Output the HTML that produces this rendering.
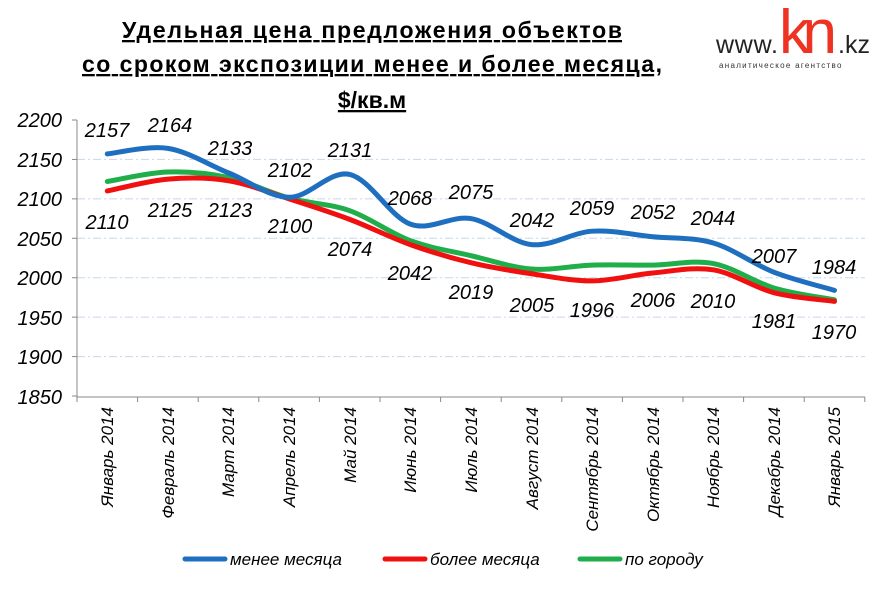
<!DOCTYPE html>
<html><head><meta charset="utf-8"><style>
body{margin:0;background:#fff;width:886px;height:591px;overflow:hidden;font-family:"Liberation Sans",sans-serif}
</style></head><body>
<svg id="s" width="886" height="591" xmlns="http://www.w3.org/2000/svg" font-family="Liberation Sans, sans-serif">
<g font-weight="bold" font-size="23" text-anchor="middle" text-decoration="underline" fill="#000">
<text x="372" y="38" textLength="500">Удельная цена предложения  объектов</text>
<text x="372" y="72" textLength="580">со сроком экспозиции менее и более месяца,</text>
<text x="372" y="108">$/кв.м</text>
</g>
<text x="716" y="53" font-size="25" fill="#222" textLength="62">www.</text>
<text x="779" y="53" font-size="62" fill="#e32" textLength="58">kn</text>
<text x="838" y="53" font-size="25" fill="#222">.kz</text>
<text x="719" y="68" font-size="8" fill="#333" letter-spacing="1.3">аналитическое агентство</text>
<g id="grid" stroke="#c8d8e8" stroke-dasharray="8,3,2,3" stroke-width="1"></g>
<line x1="77" y1="120" x2="77" y2="397" stroke="#888"/>
<line x1="77" y1="397" x2="865" y2="397" stroke="#888"/>
<g font-size="20" font-style="italic" text-anchor="end" fill="#000">
<text x="62" y="127">2200</text><text x="62" y="167">2150</text><text x="62" y="206">2100</text><text x="62" y="246">2050</text><text x="62" y="285">2000</text><text x="62" y="325">1950</text><text x="62" y="364">1900</text><text x="62" y="404">1850</text>
</g>
<g id="ticks" stroke="#888"></g>
<g id="lines" fill="none" stroke-width="5" stroke-linecap="round"></g>
<g font-size="20" font-style="italic" text-anchor="middle" fill="#000">
<text x="107" y="137">2157</text><text x="170" y="132">2164</text><text x="230" y="155">2133</text><text x="290" y="177">2102</text><text x="350" y="157">2131</text><text x="410" y="205">2068</text><text x="471" y="199">2075</text><text x="532" y="227">2042</text><text x="592" y="215">2059</text><text x="653" y="219">2052</text><text x="713" y="225">2044</text><text x="774" y="263">2007</text><text x="834" y="274">1984</text>
<text x="107" y="229">2110</text><text x="170" y="217">2125</text><text x="230" y="217">2123</text><text x="290" y="233">2100</text><text x="350" y="256">2074</text><text x="410" y="280">2042</text><text x="471" y="299">2019</text><text x="532" y="312">2005</text><text x="592" y="317">1996</text><text x="653" y="307">2006</text><text x="713" y="308">2010</text><text x="774" y="328">1981</text><text x="834" y="339">1970</text>
</g>
<g font-size="17" font-style="italic" text-anchor="end" fill="#000">
<text transform="translate(113,407) rotate(-90)">Январь 2014</text>
<text transform="translate(174,407) rotate(-90)">Февраль 2014</text>
<text transform="translate(234,407) rotate(-90)">Март 2014</text>
<text transform="translate(295,407) rotate(-90)">Апрель 2014</text>
<text transform="translate(356,407) rotate(-90)">Май 2014</text>
<text transform="translate(416,407) rotate(-90)">Июнь 2014</text>
<text transform="translate(477,407) rotate(-90)">Июль 2014</text>
<text transform="translate(538,407) rotate(-90)">Август 2014</text>
<text transform="translate(598,407) rotate(-90)">Сентябрь 2014</text>
<text transform="translate(659,407) rotate(-90)">Октябрь 2014</text>
<text transform="translate(719,407) rotate(-90)">Ноябрь 2014</text>
<text transform="translate(780,407) rotate(-90)">Декабрь 2014</text>
<text transform="translate(840,407) rotate(-90)">Январь 2015</text>
</g>
<g font-size="17" font-style="italic" fill="#000" stroke-width="5" stroke-linecap="round">
<line x1="185" y1="559" x2="225" y2="559" stroke="#1f6fc0"/><text x="230" y="565">менее месяца</text>
<line x1="385" y1="559" x2="425" y2="559" stroke="#f01010"/><text x="430" y="565">более месяца</text>
<line x1="580" y1="559" x2="620" y2="559" stroke="#1fae4a"/><text x="625" y="565">по городу</text>
</g>
</svg>
<script>
var ns="http://www.w3.org/2000/svg";
function Y(v){return 120+(2200-v)*0.7886;}
function X(i){return 107.3+60.6*i;}
var g=document.getElementById('grid');
for(var v=2150;v>=1900;v-=50){var l=document.createElementNS(ns,'line');l.setAttribute('x1',77);l.setAttribute('x2',865);l.setAttribute('y1',Y(v));l.setAttribute('y2',Y(v));g.appendChild(l);}
var t=document.getElementById('ticks');
for(var i=0;i<=13;i++){var l=document.createElementNS(ns,'line');var x=77+60.6*i;l.setAttribute('x1',x);l.setAttribute('x2',x);l.setAttribute('y1',397);l.setAttribute('y2',402);t.appendChild(l);}
for(var v=2200;v>=1850;v-=50){var l=document.createElementNS(ns,'line');l.setAttribute('x1',72);l.setAttribute('x2',77);l.setAttribute('y1',Y(v));l.setAttribute('y2',Y(v));t.appendChild(l);}
var data=[["#1fae4a",[2122,2134,2127,2101,2085,2047,2028,2011,2016,2016,2018,1987,1972]],
["#f01010",[2110,2125,2123,2100,2074,2042,2019,2005,1996,2006,2010,1981,1970]],
["#1f6fc0",[2157,2164,2133,2102,2131,2068,2075,2042,2059,2052,2044,2007,1984]]];
var L=document.getElementById('lines');
data.forEach(function(s){var p=s[1].map(function(v,i){return [X(i),Y(v)];});
var d="M"+p[0][0]+","+p[0][1];
for(var i=0;i<p.length-1;i++){var p0=p[i-1]||p[i],p1=p[i],p2=p[i+1],p3=p[i+2]||p2;
var c1=[p1[0]+(p2[0]-p0[0])/6,p1[1]+(p2[1]-p0[1])/6],c2=[p2[0]-(p3[0]-p1[0])/6,p2[1]-(p3[1]-p1[1])/6];
d+=" C"+c1+" "+c2+" "+p2;}
var e=document.createElementNS(ns,'path');e.setAttribute('d',d);e.setAttribute('stroke',s[0]);L.appendChild(e);});
</script>
</body></html>
